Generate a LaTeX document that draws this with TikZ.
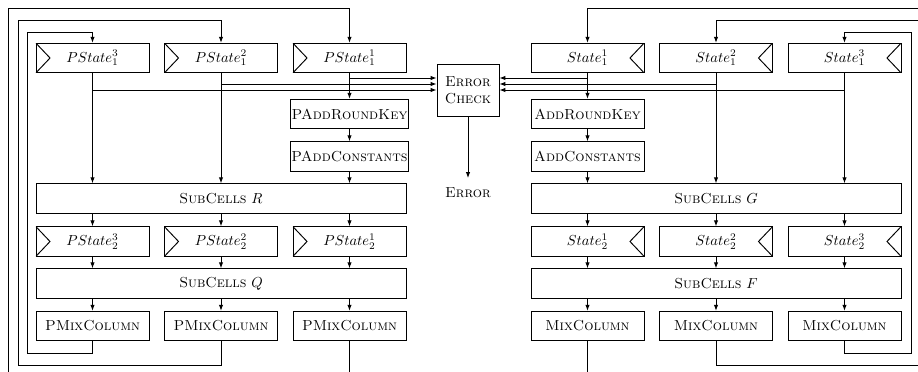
\documentclass[tikz,border=0pt]{standalone}
\usetikzlibrary{arrows.meta}
\begin{document}
\begin{tikzpicture}[x=0.69pt,y=-0.69pt,line width=0.65pt,
  >={Latex[length=4pt,width=3pt]},
  box/.style={draw,inner sep=0.5pt,minimum width=78pt,minimum height=20.4pt},
  wide/.style={draw,inner sep=0.5pt,minimum width=255.3pt,minimum height=20.4pt},
  lclk/.style={box,path picture={\draw (path picture bounding box.north west) -- ([xshift=9.7pt]path picture bounding box.west) -- (path picture bounding box.south west);}},
  rclk/.style={box,path picture={\draw (path picture bounding box.north east) -- ([xshift=-9.7pt]path picture bounding box.east) -- (path picture bounding box.south east);}},
  ecbox/.style={draw,align=center,minimum width=42.8pt,minimum height=35.9pt,inner sep=1pt}]
\useasboundingbox (0,0) rectangle (918,372);
% ---------- left ----------
\node[lclk] (p13) at (92.5,58) {$PState_1^3$};
\node[lclk] (p12) at (221,58) {$PState_1^2$};
\node[lclk] (p11) at (349.5,58) {$PState_1^1$};
\node[box] (park) at (349.5,114) {\textsc{PAddRoundKey}};
\node[box] (pac) at (349.5,156.5) {\textsc{PAddConstants}};
\node[wide] (subR) at (221,198.5) {\textsc{SubCells} $R$};
\node[lclk] (p23) at (92.5,241.5) {$PState_2^3$};
\node[lclk] (p22) at (221,241.5) {$PState_2^2$};
\node[lclk] (p21) at (349.5,241.5) {$PState_2^1$};
\node[wide] (subQ) at (221,283.5) {\textsc{SubCells} $Q$};
\node[box] (pm3) at (92.5,326) {\textsc{PMixColumn}};
\node[box] (pm2) at (221,326) {\textsc{PMixColumn}};
\node[box] (pm1) at (349.5,326) {\textsc{PMixColumn}};
% ---------- middle ----------
\node[ecbox] (ec) at (468,90) {\textsc{Error}\\[0pt]\textsc{Check}};
\node (err) at (468,193) {\textsc{Error}};
\coordinate (errt) at (468,178);
% ---------- right ----------
\node[rclk] (s11) at (587.5,58) {$State_1^1$};
\node[rclk] (s12) at (716,58) {$State_1^2$};
\node[rclk] (s13) at (844.5,58) {$State_1^3$};
\node[box] (ark) at (587.5,114) {\textsc{AddRoundKey}};
\node[box] (ac) at (587.5,156.5) {\textsc{AddConstants}};
\node[wide] (subG) at (716,198.5) {\textsc{SubCells} $G$};
\node[rclk] (s21) at (587.5,241.5) {$State_2^1$};
\node[rclk] (s22) at (716,241.5) {$State_2^2$};
\node[rclk] (s23) at (844.5,241.5) {$State_2^3$};
\node[wide] (subF) at (716,283.5) {\textsc{SubCells} $F$};
\node[box] (m1) at (587.5,326) {\textsc{MixColumn}};
\node[box] (m2) at (716,326) {\textsc{MixColumn}};
\node[box] (m3) at (844.5,326) {\textsc{MixColumn}};
% coordinates for branch rows
\coordinate (r1) at (0,78);
\coordinate (r2) at (0,84);
\coordinate (r3) at (0,90);
% ---------- left arrows ----------
\draw[->] (p13.south) -- (p13.south |- subR.north);
\draw[->] (p12.south) -- (p12.south |- subR.north);
\draw[->] (p11) -- (park);
\draw[->] (park) -- (pac);
\draw[->] (pac) -- (pac.south |- subR.north);
\draw[->] (p11.south |- r1) -- (ec.west |- r1);
\draw[->] (p12.south |- r2) -- (ec.west |- r2);
\draw[->] (p13.south |- r3) -- (ec.west |- r3);
\foreach \a in {p23,p22,p21}{
  \draw[->] (\a.north |- subR.south) -- (\a.north);
  \draw[->] (\a.south) -- (\a.south |- subQ.north);}
\foreach \a in {pm3,pm2,pm1}{
  \draw[->] (\a.north |- subQ.south) -- (\a.north);}
% left feedback
\draw[->] (pm3.south) -- (92.5,353) -- (27,353) -- (27,32) -- (92.5,32) -- (p13.north);
\draw[->] (pm2.south) -- (221,365) -- (18,365) -- (18,20) -- (221,20) -- (p12.north);
\draw (pm1.south) -- (349.5,372);
\draw[->] (8,372) -- (8,8) -- (349.5,8) -- (p11.north);
% error
\draw[->] (ec.south) -- (errt);
% ---------- right arrows ----------
\draw[->] (s12.south) -- (s12.south |- subG.north);
\draw[->] (s13.south) -- (s13.south |- subG.north);
\draw[->] (s11) -- (ark);
\draw[->] (ark) -- (ac);
\draw[->] (ac) -- (ac.south |- subG.north);
\draw[->] (s11.south |- r1) -- (ec.east |- r1);
\draw[->] (s12.south |- r2) -- (ec.east |- r2);
\draw[->] (s13.south |- r3) -- (ec.east |- r3);
\foreach \a in {s21,s22,s23}{
  \draw[->] (\a.north |- subG.south) -- (\a.north);
  \draw[->] (\a.south) -- (\a.south |- subF.north);}
\foreach \a in {m1,m2,m3}{
  \draw[->] (\a.north |- subF.south) -- (\a.north);}
% right feedback
\draw[->] (m3.south) -- (844.5,353) -- (911,353) -- (911,32) -- (844.5,32) -- (s13.north);
\draw (m2.south) -- (716,365) -- (918,365);
\draw (m1.south) -- (587.5,372);
\draw[->] (918,8) -- (587.5,8) -- (s11.north);
\draw[->] (918,20) -- (716,20) -- (s12.north);
\end{tikzpicture}
\end{document}
